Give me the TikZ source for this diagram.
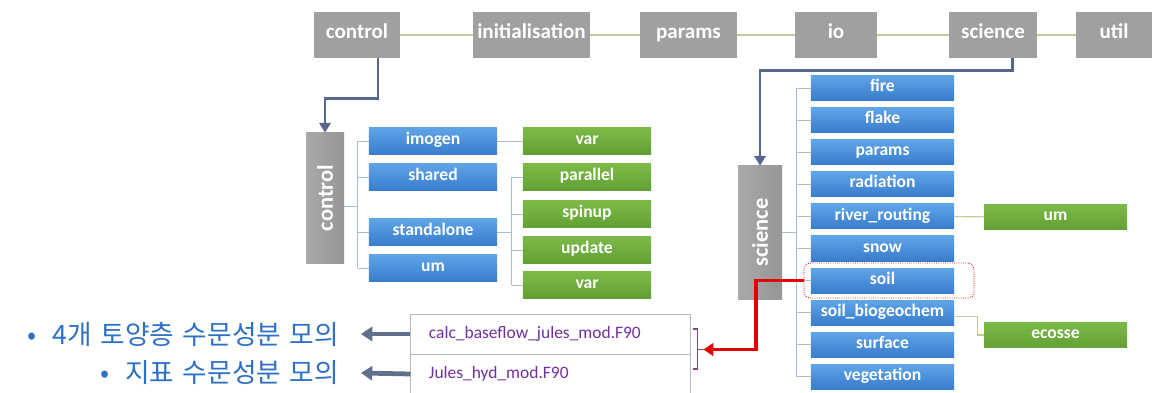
\documentclass[tikz,border=0pt]{standalone}
\usepackage{fontspec}
\usepackage{graphicx}
\setmainfont{Carlito}
\newfontfamily\kfont[WordSpace=1.4]{Noto Sans CJK KR}
\usetikzlibrary{arrows.meta,calc}

\definecolor{boxgray}{RGB}{160,160,160}
\definecolor{sidegray}{RGB}{150,150,150}
\definecolor{bluetop}{RGB}{96,164,232}
\definecolor{bluebot}{RGB}{56,124,204}
\definecolor{greentop}{RGB}{124,186,72}
\definecolor{greenbot}{RGB}{98,160,52}
\definecolor{treeline}{RGB}{168,186,212}
\definecolor{linkline}{RGB}{196,202,150}
\definecolor{navline}{RGB}{88,104,140}
\definecolor{fileviolet}{RGB}{112,48,160}
\definecolor{korblue}{RGB}{46,112,196}
\definecolor{hlred}{RGB}{228,0,0}
\definecolor{backgray}{RGB}{96,112,138}

\def\topmods{tctl/357/86/control,tinit/531.5/117/initialisation,tpar/688.5/97/params,tio/836/82/io,tsci/993/88/science,tutil/1114/76/util}
\def\ctlmods{cimo/141/imogen,csha/177/shared,csta/232/standalone,cum/268/um}
\def\ctlsubs{gvar/141/var,gpar/177/parallel,gspin/214/spinup,gupd/250/update,gvarb/285/var}
\def\scimods{fire,flake,params,radiation,river\_routing,snow,soil,soil\_biogeochem,surface,vegetation}

\tikzset{
  topbox/.style={fill=boxgray, text=white, font=\fontsize{15}{15}\selectfont\bfseries,
    minimum height=1.15cm, inner sep=0pt, text height=0.72em, text depth=0.2em},
  sidebox/.style={left color=boxgray!90, right color=sidegray, text=white,
    font=\fontsize{16}{16}\selectfont\bfseries, inner sep=0pt},
  bluebox/.style={top color=bluetop, bottom color=bluebot, text=white,
    font=\fontsize{12.5}{13}\selectfont\bfseries, minimum width=3.575cm, minimum height=0.625cm,
    inner sep=0pt, text height=0.72em, text depth=0.2em},
  greenbox/.style={bluebox, top color=greentop, bottom color=greenbot},
  tree/.style={draw=treeline, line width=0.7pt},
  link/.style={draw=linkline, line width=0.8pt},
  navarrow/.style={draw=navline, line width=2.1pt, -{Triangle[length=7pt,width=8pt]}},
  redarrow/.style={draw=hlred, line width=2.8pt, -{Triangle[length=7pt,width=9pt]}},
  backarrow/.style={draw=backgray, line width=3.4pt, -{Triangle[length=8pt,width=10pt]}},
  hlbox/.style={draw=hlred, densely dotted, line width=0.6pt, rounded corners=4pt},
  filebox/.style={draw=gray!55, fill=white, text=fileviolet, line width=0.7pt,
    font=\fontsize{12.4}{14}\selectfont, text width=6.075cm, align=left,
    inner xsep=0.45cm, inner ysep=0pt, minimum height=1cm},
  korlabel/.style={text=korblue, font=\kfont\fontsize{19}{21}\selectfont, inner sep=0pt},
}

\begin{document}
\begin{tikzpicture}[x=0.025cm,y=-0.025cm]
\path[use as bounding box, fill=white] (0,0) rectangle (1154,393);

% Hauptmodule
\foreach \n/\x/\w/\lbl in \topmods {
  \node[topbox, minimum width=\w*0.025cm] (\n) at (\x,35) {\lbl};
}
\foreach \a/\b in {tctl/tinit,tinit/tpar,tpar/tio,tio/tsci,tsci/tutil} {
  \draw[link] (\a) -- (\b);
}

% control
\node[sidebox, minimum width=0.95cm, minimum height=3.25cm] (cside) at (325,198) {\rotatebox{90}{control}};
\draw[navarrow] ([xshift=0.525cm]tctl.south) -- ++(0,40) -| (cside.north);

\foreach \n/\y/\lbl in \ctlmods {
  \node[bluebox, minimum width=3.2cm, minimum height=0.675cm] (\n) at (433,\y) {\lbl};
  \draw[tree] (\n.west) -- ++(-11,0);
}
\foreach \n/\y/\lbl in \ctlsubs {
  \node[greenbox, minimum width=3.2cm, minimum height=0.675cm] (\n) at (587,\y) {\lbl};
}
\draw[tree] ([yshift=-0.2cm]cside.east) -- ++(14,0);
\draw[tree] ([xshift=-0.275cm]cimo.west) -- ([xshift=-0.275cm]cum.west);
\draw[tree] (cimo) -- (gvar);
\draw[tree] (csta.east) -- ++(15,0);
\draw[tree] ([xshift=-0.275cm]gpar.west) -- ([xshift=-0.275cm]gvarb.west);
\foreach \n in {gpar,gspin,gupd,gvarb} {
  \draw[tree] (\n.west) -- ++(-11,0);
}

% science
\node[sidebox, minimum width=1.1cm, minimum height=3.325cm] (sside) at (760,232.5) {\rotatebox{90}{science}};
\draw[navarrow] ([xshift=0.475cm]tsci.south) -- ++(0,12) -| (sside.north);

\foreach \lbl [count=\i] in \scimods {
  \pgfmathsetmacro{\yy}{88+32.1*(\i-1)}
  \node[bluebox] (s\i) at (882.5,\yy) {\lbl};
  \draw[tree] (s\i.west) -- ++(-14,0);
}
\draw[tree] (sside.east) -- ++(15,0);
\draw[tree] ([xshift=-0.35cm]s1.west) -- ([xshift=-0.35cm]s10.west);

\node[greenbox] (gum) at (1055.5,217) {um};
\node[greenbox] (geco) at (1055.5,335) {ecosse};
\draw[link] (s5) -- (gum);
\draw[link] ([yshift=-0.1cm]s8.east) -- ++(23,0) |- (geco.west);

% soil
\node[hlbox, minimum width=4.25cm, minimum height=0.875cm] (soilhl) at (889,280.5) {};

\node[filebox] (f1) at (550.5,334) {calc\_baseflow\_jules\_mod.F90};
\node[filebox] (f2) at (550.5,374) {Jules\_hyd\_mod.F90};
\draw[draw=violet!45!gray, line width=0.8pt] ($(f1.east)+(2,-5)$) -- ++(5,0) -- ++(0,40) -- ++(-5,0);
\coordinate (fbrace) at ($(f1.south east)+(13,-5)$);
\draw[draw=violet!45!gray, line width=0.8pt] ($(f1.south east)+(7,-5)$) -- (fbrace);
\draw[redarrow] (soilhl.west) -- ++(-48,0) |- (fbrace);

\node[korlabel, anchor=east] (d1) at (339,334) {•\hspace{0.6em}4개 토양층 수문성분 모의};
\node[korlabel, anchor=east] (d2) at (339,373) {•\hspace{0.6em}지표 수문성분 모의};
\draw[backarrow] (f1.west) -- ($(d1.east)+(22,0)$);
\draw[backarrow] (f2.west) -- ($(d2.east)+(22,0)$);

\end{tikzpicture}
\end{document}
